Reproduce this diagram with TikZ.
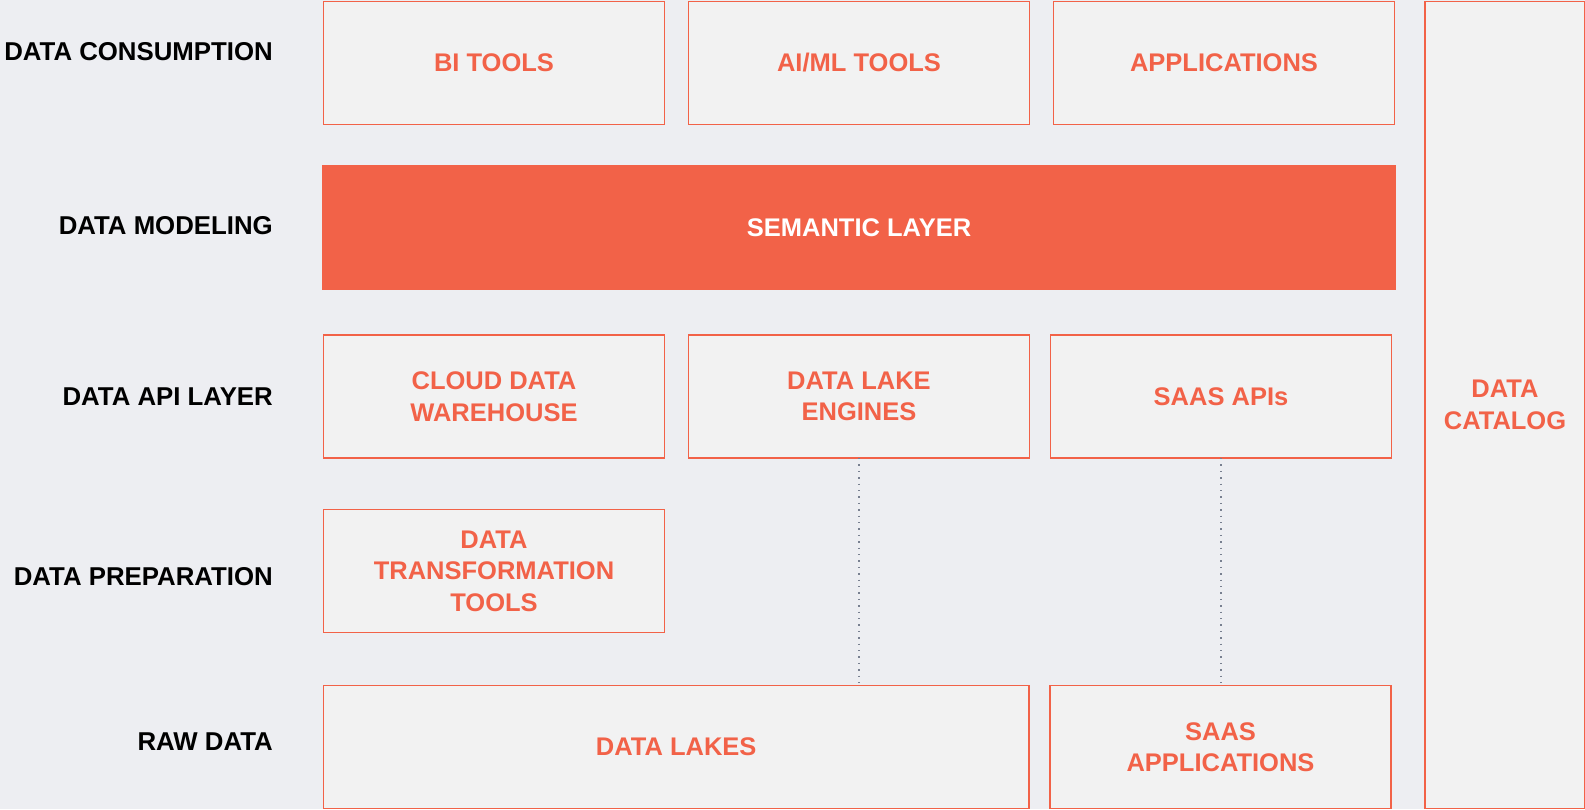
\documentclass[tikz,border=0pt]{standalone}
\usepackage{fontspec}
\setmainfont{Liberation Sans}
\usetikzlibrary{positioning}
\definecolor{coral}{RGB}{242,98,72}
\definecolor{paper}{RGB}{237,238,242}
\definecolor{boxfill}{RGB}{242,242,242}
\definecolor{dotgray}{RGB}{120,128,144}
\tikzset{
  tool/.style={draw=coral, fill=boxfill, line width=1.6pt, text=coral,
    font=\bfseries\fontsize{25.5}{31.5}\selectfont, align=center,
    minimum width=341pt, minimum height=123pt, inner sep=0pt, outer sep=0pt},
  semantic/.style={tool, fill=coral, text=white, minimum width=1072pt},
  catalog/.style={tool, minimum width=160pt, minimum height=807pt},
  layer/.style={anchor=east, inner sep=0pt, text=black,
    font=\bfseries\fontsize{25.8}{31.5}\selectfont},
  guide/.style={draw=dotgray, line width=1.3pt, dash pattern=on 1.3pt off 5.1pt}
}

\begin{document}
\begin{tikzpicture}[x=1pt, y=-1pt]
    \fill [paper] (0,0) rectangle (1585,809);
    \useasboundingbox (0,0) rectangle (1585,809);
    % row labels
    \foreach \name/\y [count=\i] in {DATA CONSUMPTION/51.5, DATA MODELING/226,
        DATA API LAYER/397, DATA PREPARATION/577, RAW DATA/742}
        \node [layer] (layer\i) at (273,\y) {\name};
    % consumption
    \node [tool] (bi) at (494,63) {BI TOOLS};
    \node [tool, right=24pt of bi] (aiml) {AI/ML TOOLS};
    \node [tool, right=24pt of aiml] (apps) {APPLICATIONS};
    % modeling
    \node [semantic] (semantic) at (859,227.5) {SEMANTIC LAYER};
    % api layer
    \node [tool] (cloud) at (494,396.5) {CLOUD DATA\\WAREHOUSE};
    \node [tool, right=24pt of cloud] (engines) {DATA LAKE\\ENGINES};
    \node [tool, right=21pt of engines] (saasapi) {SAAS APIs};
    % preparation
    \node [tool] (transform) at (494,571) {DATA\\TRANSFORMATION\\TOOLS};
    % raw data
    \node [tool, minimum width=705.5pt] (lakes) at (676.25,747) {DATA LAKES};
    \node [tool, right=21pt of lakes] (saasapp) {SAAS\\APPLICATIONS};
    \node [catalog] (datacat) at (1505,405) {DATA\\CATALOG};
    \draw [guide] (engines.south) -- (engines.south |- lakes.north);
    \draw [guide] (saasapi.south) -- (saasapi.south |- saasapp.north);
\end{tikzpicture}
\end{document}
